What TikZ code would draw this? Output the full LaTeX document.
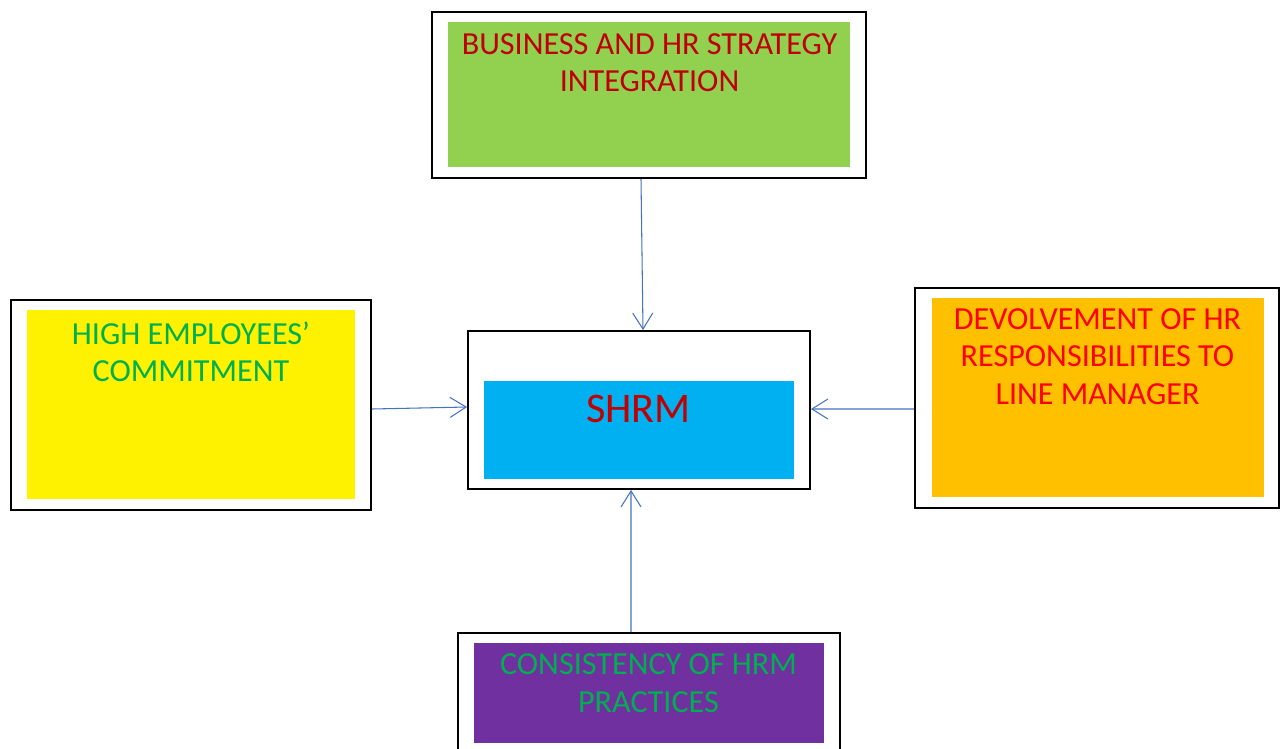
\documentclass[tikz,border=0pt]{standalone}
\usepackage{fontspec}
\setmainfont{Carlito}
\usetikzlibrary{arrows.meta}

\definecolor{leafgreen}{HTML}{92D050}
\definecolor{skyblue}{HTML}{00B0F0}
\definecolor{amber}{HTML}{FFC000}
\definecolor{plum}{HTML}{7030A0}
\definecolor{darkred}{HTML}{C00000}
\definecolor{grassgreen}{HTML}{00B050}
\definecolor{linkblue}{HTML}{4472C4}

\tikzset{
  frame/.style={draw=black, line width=1.1pt, fill=white, inner sep=0pt},
  fillbox/.style={inner sep=0pt, draw=none},
  caption/.style={anchor=north, align=center, inner sep=0pt, font=\fontsize{18.3}{21.5}\selectfont},
  conn/.style={draw=linkblue, line width=0.6pt, -{Straight Barb[length=3.2mm, width=4mm]}}
}

\begin{document}
\begin{tikzpicture}[x=0.02cm, y=-0.02cm]
\clip (0,0) rectangle (1282,748);

\node[frame, minimum width=8.68cm, minimum height=3.32cm] (bizFrame) at (649,95) {};
\node[fillbox, fill=leafgreen, minimum width=8.04cm, minimum height=2.9cm] (bizFill) at (649,94.5) {};
\node[caption, text=darkred] (bizText) at (649.5,33) {BUSINESS AND HR STRATEGY\\INTEGRATION};

\node[frame, minimum width=7.2cm, minimum height=4.2cm] (empFrame) at (191,405) {};
\node[fillbox, fill=yellow, minimum width=6.56cm, minimum height=3.78cm] (empFill) at (191,404.5) {};
\node[caption, text=grassgreen] (empText) at (191,321) {HIGH EMPLOYEES’\\COMMITMENT};

\node[frame, minimum width=6.84cm, minimum height=3.16cm] (shrmFrame) at (639,410) {};
\node[fillbox, fill=skyblue, minimum width=6.2cm, minimum height=1.96cm] (shrmFill) at (639,430) {};
\node[caption, text=darkred, font=\fontsize{24}{29}\selectfont] (shrmText) at (638.5,395) {SHRM};

\node[frame, minimum width=7.28cm, minimum height=4.4cm] (devFrame) at (1097,398) {};
\node[fillbox, fill=amber, minimum width=6.64cm, minimum height=3.98cm] (devFill) at (1098,397.5) {};
\node[caption, text=red] (devText) at (1097.5,308) {DEVOLVEMENT OF HR\\RESPONSIBILITIES TO\\LINE MANAGER};

\node[frame, minimum width=7.64cm, minimum height=2.54cm] (hrmFrame) at (649,696.5) {};
\node[fillbox, fill=plum, minimum width=7cm, minimum height=2cm] (hrmFill) at (649,693) {};
\node[caption, text=grassgreen] (hrmText) at (648.5,653) {CONSISTENCY OF HRM\\PRACTICES};

\draw[conn] ([xshift=-0.16cm]bizFrame.south) -- ([xshift=0.08cm]shrmFrame.north);
\draw[conn] ([yshift=-0.08cm]empFrame.east) -- ([yshift=0.06cm]shrmFrame.west);
\draw[conn] ([yshift=-0.22cm]devFrame.west) -- ([yshift=0.02cm]shrmFrame.east);
\draw[conn] ([xshift=-0.36cm]hrmFrame.north) -- ([xshift=-0.16cm]shrmFrame.south);

\end{tikzpicture}
\end{document}
